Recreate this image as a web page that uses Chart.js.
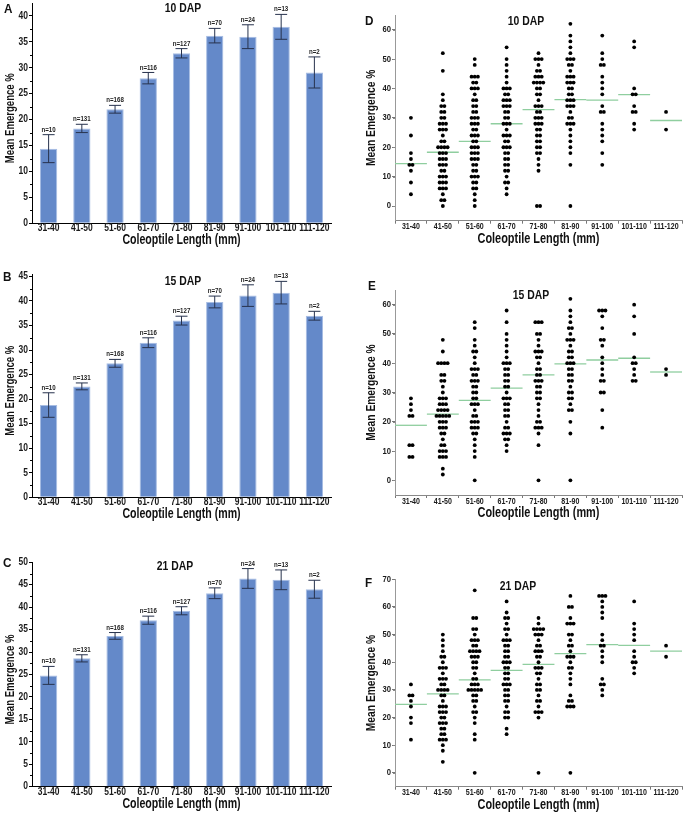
<!DOCTYPE html>
<html>
<head>
<meta charset="utf-8">
<script src="https://cdn.jsdelivr.net/npm/chart.js@4.4.1/dist/chart.umd.min.js"></script>
<style>
  body { margin: 0; background: #fff; width: 686px; height: 813px; position: relative; overflow: hidden; }
  .panel { position: absolute; }
</style>
</head>
<body>
<div class="panel" style="left:0;top:0"><canvas id="chartA" width="343" height="250"></canvas></div>
<div class="panel" style="left:0;top:270px"><canvas id="chartB" width="343" height="255"></canvas></div>
<div class="panel" style="left:0;top:540px"><canvas id="chartC" width="343" height="273"></canvas></div>
<div class="panel" style="left:343px;top:0"><canvas id="chartD" width="343" height="250"></canvas></div>
<div class="panel" style="left:343px;top:270px"><canvas id="chartE" width="343" height="255"></canvas></div>
<div class="panel" style="left:343px;top:540px"><canvas id="chartF" width="343" height="273"></canvas></div>
<script>
const categories = ["31-40", "41-50", "51-60", "61-70", "71-80", "81-90", "91-100", "101-110", "111-120"];
const sampleSizes = [10, 131, 168, 116, 127, 70, 24, 13, 2];

const mean10 = [14.4, 18.3, 22.0, 28.0, 32.8, 36.2, 36.0, 37.9, 29.1];
const err10 = [2.7, 0.8, 0.75, 1.1, 0.9, 1.4, 2.3, 2.4, 3.0];
const mean15 = [18.8, 22.6, 27.3, 31.5, 36.0, 39.8, 41.1, 41.7, 37.0];
const err15 = [2.5, 0.7, 0.8, 1.0, 0.9, 1.2, 2.2, 2.3, 0.9];
const mean21 = [24.8, 28.6, 33.6, 37.1, 39.2, 43.1, 46.4, 46.1, 44.0];
const err21 = [2.0, 0.8, 0.75, 0.9, 0.9, 1.2, 2.2, 2.2, 2.0];

// individual plot values per class, as they show in the dot panels
const dots10 = [
  [30, 24, 18, 16, 14, 14, 12, 8, 4],
  [52, 46, 38, 36, 34, 34, 32, 32, 30, 30, 28, 28, 28, 26, 26, 26, 24, 22, 22, 20, 20, 20, 20, 18, 18, 18, 16, 16, 16, 14, 14, 14, 12, 12, 10, 10, 10, 8, 8, 8, 6, 6, 6, 4, 2, 2, 0],
  [50, 48, 44, 44, 44, 42, 42, 40, 40, 40, 38, 36, 36, 34, 34, 32, 32, 30, 30, 30, 28, 28, 28, 26, 26, 24, 24, 24, 22, 22, 20, 20, 20, 18, 18, 18, 16, 16, 16, 14, 14, 12, 12, 10, 10, 10, 8, 8, 6, 6, 4, 2, 0],
  [54, 50, 48, 46, 44, 42, 40, 40, 40, 38, 38, 36, 36, 36, 34, 34, 34, 32, 32, 30, 30, 28, 28, 28, 26, 24, 24, 24, 22, 22, 20, 20, 20, 18, 18, 16, 16, 14, 14, 12, 12, 10, 8, 8, 6, 4],
  [52, 50, 50, 50, 48, 46, 46, 44, 44, 44, 42, 42, 42, 42, 40, 40, 38, 38, 36, 34, 34, 34, 32, 32, 30, 30, 30, 28, 28, 28, 26, 26, 24, 24, 22, 22, 20, 20, 18, 18, 16, 14, 12, 0, 0],
  [62, 58, 56, 54, 52, 50, 50, 50, 48, 48, 46, 44, 44, 44, 42, 42, 42, 40, 40, 38, 38, 36, 36, 36, 34, 34, 34, 32, 30, 30, 28, 28, 28, 26, 24, 22, 20, 18, 14, 0],
  [58, 52, 50, 48, 48, 44, 42, 40, 38, 34, 32, 32, 28, 26, 24, 22, 18, 14],
  [56, 54, 40, 38, 38, 34, 32, 32, 28, 26],
  [32, 26]
];
const dots15 = [
  [28, 26, 24, 22, 22, 12, 12, 8, 8],
  [48, 44, 40, 40, 40, 40, 36, 36, 34, 34, 32, 30, 28, 28, 28, 26, 26, 26, 24, 24, 24, 24, 22, 22, 22, 22, 22, 20, 20, 20, 18, 18, 18, 16, 16, 14, 12, 12, 10, 10, 10, 8, 8, 8, 4, 2],
  [54, 52, 48, 46, 44, 44, 42, 40, 38, 38, 38, 36, 36, 34, 34, 34, 32, 32, 30, 30, 28, 28, 26, 26, 26, 24, 22, 22, 20, 20, 20, 18, 18, 18, 16, 16, 14, 12, 10, 8, 0],
  [58, 54, 50, 48, 46, 44, 42, 40, 40, 40, 38, 38, 36, 36, 34, 34, 32, 32, 30, 28, 28, 28, 26, 26, 24, 24, 22, 22, 20, 18, 18, 16, 16, 16, 14, 14, 12, 10],
  [54, 54, 54, 50, 50, 48, 46, 44, 44, 44, 42, 42, 40, 38, 38, 36, 36, 34, 34, 34, 32, 32, 30, 30, 28, 28, 26, 24, 22, 20, 20, 18, 18, 18, 16, 12, 0],
  [62, 58, 56, 54, 52, 52, 50, 48, 48, 48, 46, 44, 44, 42, 42, 40, 40, 40, 38, 38, 36, 36, 34, 34, 32, 30, 30, 28, 28, 26, 24, 24, 20, 16, 0],
  [58, 58, 58, 56, 52, 48, 48, 46, 42, 40, 38, 36, 34, 34, 30, 30, 24, 18],
  [60, 56, 50, 42, 40, 40, 38, 36, 34, 34],
  [38, 36]
];
const dots21 = [
  [32, 28, 28, 26, 24, 20, 18, 12],
  [50, 48, 46, 44, 42, 42, 40, 38, 38, 38, 36, 34, 34, 34, 32, 32, 30, 30, 30, 30, 28, 28, 26, 24, 24, 24, 22, 22, 22, 20, 20, 18, 18, 18, 16, 16, 14, 14, 12, 12, 12, 10, 8, 4],
  [66, 56, 56, 52, 52, 50, 48, 48, 48, 46, 46, 44, 44, 44, 44, 42, 42, 42, 40, 40, 38, 38, 36, 34, 34, 32, 32, 32, 30, 30, 30, 30, 30, 28, 28, 26, 26, 24, 22, 22, 20, 18, 14, 12, 0],
  [62, 58, 56, 56, 54, 52, 52, 50, 48, 48, 48, 46, 46, 44, 44, 42, 42, 40, 40, 40, 38, 38, 36, 36, 34, 34, 32, 32, 32, 30, 30, 28, 28, 26, 26, 24, 22, 22, 20, 20, 16, 14],
  [56, 54, 52, 52, 52, 52, 50, 50, 50, 48, 46, 46, 44, 44, 44, 42, 42, 40, 38, 38, 38, 36, 36, 34, 32, 32, 30, 30, 28, 26, 26, 24, 22, 22, 22, 20, 0],
  [64, 60, 60, 56, 54, 54, 54, 50, 50, 48, 46, 46, 44, 42, 42, 42, 40, 38, 38, 36, 34, 32, 28, 26, 26, 24, 24, 24, 0],
  [64, 64, 64, 62, 60, 58, 56, 50, 48, 46, 46, 44, 42, 40, 34, 32, 32, 30, 28],
  [62, 54, 52, 50, 48, 44, 42, 40, 40, 38, 36],
  [46, 42]
];

const FONT = "'Liberation Sans', Arial, sans-serif";
const yTitle = "Mean Emergence %";
const xTitle = "Coleoptile Length (mm)";

// bold text squeezed along its own direction (the figure uses a narrow face)
function narrowText(ctx, s, x, y, size, sx, align, rot, color) {
  ctx.save();
  ctx.translate(x, y);
  if (rot) ctx.rotate(rot);
  ctx.scale(sx, 1);
  ctx.font = "bold " + size + "px " + FONT;
  ctx.textAlign = align || "center";
  ctx.textBaseline = "middle";
  ctx.fillStyle = color || "#111";
  ctx.fillText(s, 0, 0);
  ctx.restore();
}

// axis texts, panel letter/title, error bars, n= labels, minor ticks
const panelPlugin = {
  id: "panel",
  afterDatasetsDraw(chart) {
    const o = chart.options.plugins.panel;
    const ctx = chart.ctx;
    const x = chart.scales.x;
    const y = chart.scales.y;
    const area = chart.chartArea;
    ctx.save();
    if (o.errs) {
      const meta = chart.getDatasetMeta(0);
      ctx.strokeStyle = "#27324d";
      ctx.lineWidth = 1;
      meta.data.forEach((bar, i) => {
        const m = o.means[i];
        const top = y.getPixelForValue(m + o.errs[i]);
        const bot = y.getPixelForValue(m - o.errs[i]);
        ctx.beginPath();
        ctx.moveTo(bar.x, top);
        ctx.lineTo(bar.x, bot);
        ctx.moveTo(bar.x - 6, top);
        ctx.lineTo(bar.x + 6, top);
        ctx.moveTo(bar.x - 6, bot);
        ctx.lineTo(bar.x + 6, bot);
        ctx.stroke();
        narrowText(ctx, "n=" + o.n[i], bar.x, top - 5, 7.5, 0.82, "center", 0, "#222");
      });
    }
    ctx.strokeStyle = o.tickColor;
    ctx.lineWidth = 1;
    for (let v = y.min + o.minor / 2; v < y.max; v += o.minor) {
      const py = Math.round(y.getPixelForValue(v)) + 0.5;
      ctx.beginPath();
      ctx.moveTo(y.right - 2, py);
      ctx.lineTo(y.right, py);
      ctx.stroke();
    }
    ctx.restore();

    // tick labels, placed by the scales
    x.ticks.forEach((t, i) => {
      narrowText(ctx, categories[i], x.getPixelForTick(i), area.bottom + o.tickDy, o.xTickSize, 0.85, "center", 0, "#1a1a1a");
    });
    y.ticks.forEach((t) => {
      narrowText(ctx, String(t.value), y.right - 4, y.getPixelForValue(t.value), o.yTickSize, 0.85, "right", 0, "#1a1a1a");
    });
    const cx = (area.left + area.right) / 2;
    narrowText(ctx, xTitle, cx, area.bottom + o.titleDy, o.xTitleSize, o.xTitleSx, "center", 0);
    narrowText(ctx, yTitle, o.yTitleX, (area.top + area.bottom) / 2 + o.yTitleDy, 13.5, o.yTitleSx, "center", -Math.PI / 2);
    narrowText(ctx, o.letter, o.letterX, o.letterY, 13, 0.9, "left", 0);
    narrowText(ctx, o.title, o.titleX, o.titleY, 13.5, 0.77, "center", 0);
  }
};

function keepSteps(step) {
  return (scale) => {
    const ticks = [];
    for (let v = 0; v <= scale.max + 1e-6; v += step) ticks.push({ value: v });
    scale.ticks = ticks;
  };
}

function barChart(id, means, errs, p) {
  const canvas = document.getElementById(id);
  return new Chart(canvas.getContext("2d"), {
    type: "bar",
    data: {
      labels: categories,
      datasets: [{
        data: means,
        backgroundColor: "#6489c9",
        borderColor: "#a7bde3",
        borderWidth: 1,
        barPercentage: 0.52,
        categoryPercentage: 1
      }]
    },
    options: {
      responsive: false,
      animation: false,
      events: [],
      layout: { padding: { top: p.top, right: 12, left: 0, bottom: 0 } },
      plugins: {
        legend: { display: false },
        tooltip: { enabled: false },
        panel: Object.assign({
          means, errs, n: sampleSizes, minor: 5, tickColor: "#000",
          tickDy: 5.3, titleDy: 16.8, xTickSize: 10, yTickSize: 10,
          xTitleSize: 14.5, xTitleSx: 0.73, yTitleSx: 0.71, yTitleX: 10, yTitleDy: 5
        }, p)
      },
      scales: {
        x: {
          grid: { display: false, drawTicks: false },
          border: { display: true, color: "#000", width: 1 },
          ticks: { display: false },
          afterFit: (s) => { s.height = canvas.height - p.bottom; s.paddingLeft = 0; s.paddingRight = 0; }
        },
        y: {
          min: 0,
          max: p.yMax,
          ticks: { display: false },
          afterBuildTicks: keepSteps(5),
          grid: { drawOnChartArea: false, tickLength: 3, color: "#000" },
          border: { display: true, color: "#000", width: 1 },
          afterFit: (s) => { s.width = 32; s.paddingTop = 0; s.paddingBottom = 0; }
        }
      }
    },
    plugins: [panelPlugin]
  });
}

function spread(values, idx) {
  const counts = {};
  values.forEach((v) => { counts[v] = (counts[v] || 0) + 1; });
  const seen = {};
  return values.map((v) => {
    const j = seen[v] || 0;
    seen[v] = j + 1;
    return { x: idx + (j - (counts[v] - 1) / 2) * 0.1, y: v };
  });
}

function dotChart(id, groups, means, p) {
  const canvas = document.getElementById(id);
  const lines = means.map((m, i) => ({
    type: "line",
    data: [{ x: i - 0.5, y: m }, { x: i + 0.5, y: m }],
    borderColor: "#8fce9f",
    borderWidth: 1.3,
    pointRadius: 0,
    xAxisID: "xv",
    order: 2
  }));
  const dots = {
    type: "scatter",
    data: groups.flatMap((g, i) => spread(g, i)),
    backgroundColor: "#000",
    borderWidth: 0,
    pointRadius: 1.9,
    xAxisID: "xv",
    order: 1
  };
  return new Chart(canvas.getContext("2d"), {
    type: "scatter",
    data: { labels: categories, datasets: [dots, ...lines] },
    options: {
      responsive: false,
      animation: false,
      events: [],
      layout: { padding: { top: p.top, right: 3, left: 0, bottom: 0 } },
      plugins: {
        legend: { display: false },
        tooltip: { enabled: false },
        panel: Object.assign({
          minor: 10, tickColor: "#888",
          tickDy: 6.5, titleDy: 18.5, xTickSize: 8.3, yTickSize: 9,
          xTitleSize: 14, xTitleSx: 0.78, yTitleSx: 0.76, yTitleX: 28, yTitleDy: 0
        }, p)
      },
      scales: {
        x: {
          type: "category",
          labels: categories,
          offset: true,
          grid: { display: true, drawOnChartArea: false, offset: true, tickLength: 3, color: "#777" },
          border: { display: true, color: "#888", width: 1 },
          ticks: { display: false },
          afterFit: (s) => { s.height = canvas.height - p.bottom; s.paddingLeft = 0; s.paddingRight = 0; }
        },
        xv: { type: "linear", display: false, min: -0.5, max: 8.5 },
        y: {
          min: -5,
          max: p.yMax,
          ticks: { display: false },
          afterBuildTicks: keepSteps(10),
          grid: { drawOnChartArea: false, tickLength: 3, color: "#777" },
          border: { display: true, color: "#999", width: 1 },
          afterFit: (s) => { s.width = 52; s.paddingTop = 0; s.paddingBottom = 0; }
        }
      }
    },
    plugins: [panelPlugin]
  });
}

barChart("chartA", mean10, err10, { top: 3, bottom: 223.3, yMax: 42.5, letter: "A", letterX: 4, letterY: 9, title: "10 DAP", titleX: 183, titleY: 8 });
barChart("chartB", mean15, err15, { top: 4, bottom: 227.3, yMax: 45.5, letter: "B", letterX: 3, letterY: 7, title: "15 DAP", titleX: 183, titleY: 11 });
barChart("chartC", mean21, err21, { top: 22.3, bottom: 246.7, yMax: 50, letter: "C", letterX: 3, letterY: 23, title: "21 DAP", titleX: 175, titleY: 26 });

dotChart("chartD", dots10, mean10, { top: 15, bottom: 220.7, yMax: 65, letter: "D", letterX: 22, letterY: 21, title: "10 DAP", titleX: 183, titleY: 21 });
dotChart("chartE", dots15, mean15, { top: 20, bottom: 225, yMax: 65, letter: "E", letterX: 25, letterY: 16, title: "15 DAP", titleX: 188, titleY: 25 });
dotChart("chartF", dots21, mean21, { top: 39.3, bottom: 246.7, yMax: 70, letter: "F", letterX: 22, letterY: 43, title: "21 DAP", titleX: 175, titleY: 46 });
</script>
</body>
</html>
